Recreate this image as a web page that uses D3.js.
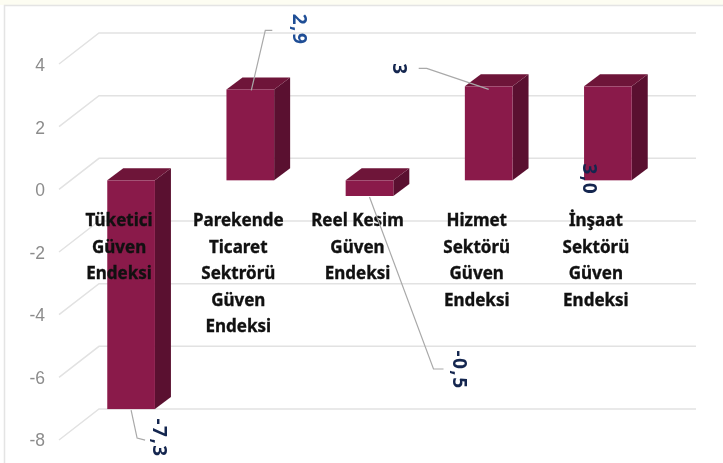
<!DOCTYPE html>
<html><head><meta charset="utf-8">
<script src="https://cdn.jsdelivr.net/npm/d3@7/dist/d3.min.js"></script>
<style>html,body{margin:0;padding:0;background:#fff;overflow:hidden}svg{display:block;filter:blur(.65px)}</style>
</head><body><svg id="c" width="723" height="463"></svg>
<script>
const categories=[["Tüketici","Güven","Endeksi"],["Parekende","Ticaret","Sektrörü","Güven","Endeksi"],["Reel Kesim","Güven","Endeksi"],["Hizmet","Sektörü","Güven","Endeksi"],["İnşaat","Sektörü","Güven","Endeksi"]];
const values=[-7.3,2.9,-0.5,3.0,3.0];
const valueLabels=["-7,3","2,9","-0,5","3","3,0"];
const tickValues=[4,2,0,-2,-4,-6,-8];

const svg=d3.select("#c");
svg.append("rect").attr("width",723).attr("height",463).attr("fill","#fff");
svg.append("rect").attr("width",723).attr("height",5).attr("fill","#fdfdf2");
svg.append("rect").attr("x",4.5).attr("y",5.5).attr("width",722).attr("height",460).attr("fill","#fff").attr("stroke","#e4e4e4").attr("stroke-width",1.5);

const yBack=d3.scaleLinear().domain([-8,4]).range([409,33]);
const yBar=v=>yBack(v)+22;
const x=d3.scaleBand().domain(d3.range(5)).range([71.5,667.5]).paddingInner(0.6).paddingOuter(0.3);
const dx=16,dy=12;
const ids=d3.range(5);

// gridlines
const g=svg.append("g").attr("fill","none").attr("stroke","#e2e2e2").attr("stroke-width",1.5);
g.selectAll("path").data(tickValues).join("path")
 .attr("d",t=>`M59,${yBack(t)+31}L99,${yBack(t)}H696`);

// y axis labels
const axis=svg.append("g").attr("transform","translate(53,0)")
 .call(d3.axisLeft(d3.scaleLinear().domain([-8,4]).range([440,65])).tickValues(tickValues).tickSize(0).tickPadding(0).tickFormat(d=>String(d)));
axis.select(".domain").remove();
axis.selectAll("text").attr("x",-8).attr("fill","#8c8c8c").attr("font-family","Liberation Sans").attr("font-size",17.5);

// bars
const bw=x.bandwidth();
const bars=svg.append("g").selectAll("g").data(ids).join("g");
const barTop=i=>yBar(Math.max(values[i],0)), barBot=i=>yBar(Math.min(values[i],0));
bars.append("path").attr("fill","#5a1030").attr("d",i=>{const r=x(i)+bw;return `M${r},${barTop(i)}l${dx},${-dy}V${barBot(i)-dy}l${-dx},${dy}Z`;});
bars.append("path").attr("fill","#6e1539").attr("d",i=>`M${x(i)},${barTop(i)}l${dx},${-dy}h${bw}l${-dx},${dy}Z`);
bars.append("rect").attr("fill","#8a1a4a").attr("x",i=>x(i)).attr("width",bw).attr("y",barTop).attr("height",i=>barBot(i)-barTop(i));

// category labels
const lab=svg.append("g").attr("text-anchor","middle").attr("font-family","Noto Sans").attr("font-weight",700).attr("font-size",17).attr("fill","#111").attr("stroke","#111").attr("stroke-width",0.35);
ids.forEach(i=>{
 const cx=x(i)+bw/2-12;
 lab.append("g").selectAll("text").data(categories[i]).join("text")
  .attr("x",cx).attr("y",(d,k)=>226+k*26.5).text(d=>d);
});

// leaders and rotated value labels, offset from each bar's end
const leaders=[
 {pts:[[0,1],[6,29],[14,31]],t:[29,29]},
 {pts:[[1,1],[15,-59],[22,-59]],t:[50,-60]},
 {pts:[[0,1],[64,173],[74,173]],t:[90,174]},
 {pts:[[0,3],[-62,-18],[-70,-18]],t:[-89,-17]},
 {pts:null,t:[-18,-1]}
];
const side=svg.append("g");
ids.forEach(i=>{
 const cx=x(i)+bw/2, ey=values[i]<0?barBot(i):(i==4?yBar(0):barTop(i)), l=leaders[i];
 if(l.pts) side.append("path").attr("fill","none").attr("stroke","#a9a9a9").attr("stroke-width",1.2)
   .attr("d",d3.line()(l.pts.map(p=>[cx+p[0],ey+p[1]])));
 side.append("text").attr("transform",`translate(${cx+l.t[0]},${ey+l.t[1]}) rotate(90)`)
   .attr("text-anchor","middle").attr("dominant-baseline","central")
   .attr("font-family","Noto Sans").attr("font-weight",700).attr("font-size",19).attr("letter-spacing",1.5)
   .attr("fill",i==1?"#1f4e96":"#14264f").text(valueLabels[i]);
});
</script></body></html>
